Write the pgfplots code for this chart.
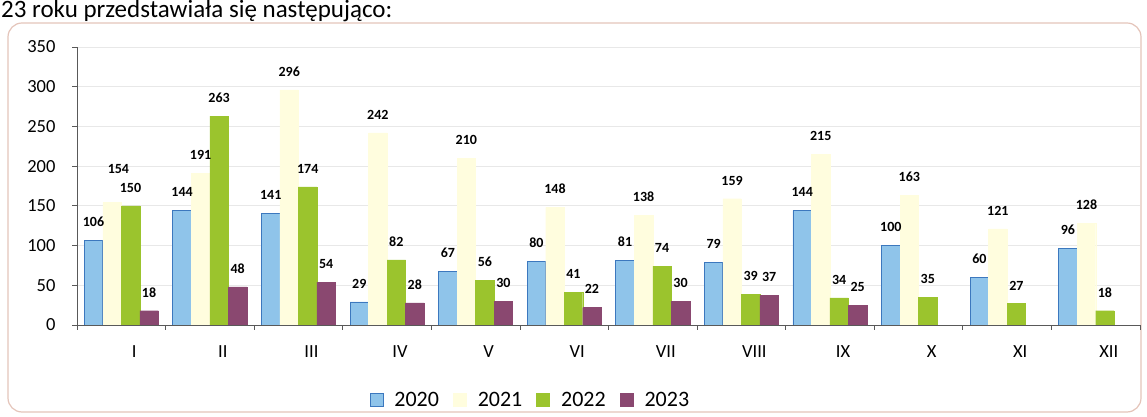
\documentclass[border=0pt]{standalone}
\usepackage{pgfplots}
\pgfplotsset{compat=1.18}
\usepackage{pgfplotstable}
\usepackage{fontspec}
\setmainfont{Carlito}
\definecolor{c20}{RGB}{143,196,234}
\definecolor{c20d}{RGB}{60,120,190}
\definecolor{c21}{RGB}{255,253,222}
\definecolor{c22}{RGB}{155,196,45}
\definecolor{c23}{RGB}{138,72,112}
\definecolor{frame}{RGB}{228,196,186}
\pgfplotstableread{
m a b c d bo
1 106 154 150 18 16
2 144 191 263 48 0
3 141 296 174 54 0
4 29 242 82 28 0
5 67 210 56 30 0
6 80 148 41 22 0
7 81 138 74 30 0
8 79 159 39 37 0
9 144 215 34 25 0
10 100 163 35 nan 0
11 60 121 27 nan 0
12 96 128 18 nan 0
}\data
\begin{document}
\begin{tikzpicture}[x=1pt,y=1pt]
\useasboundingbox (0,0) rectangle (1147,417);
\clip (0,0) rectangle (1147,417);
\node[anchor=base west,inner sep=0pt,font=\fontsize{25}{25}\selectfont] at (1,399) {23 roku przedstawiała się następująco:};
\draw[color=frame,line width=1.2pt,rounded corners=14pt] (8,5) rectangle (1141,394);
\begin{axis}[
  at={(77pt,92pt)}, anchor=south west,
  scale only axis, width=1063pt, height=278pt,
  xmin=0.5, xmax=12.5, ymin=0, ymax=350,
  axis x line*=bottom, axis y line*=left,
  axis line style={-, draw=black!65, line width=0.8pt},
  ybar=0pt, bar width=18.5pt,
  xtick={1,...,12},
  xticklabels={I,II,III,IV,V,VI,VII,VIII,IX,X,XI,XII},
  major x tick style={draw=none},
  minor xtick={0.5,1.5,...,12.5},
  minor x tick style={draw=black!65, line width=0.8pt},
  minor tick length=5pt,
  xtick pos=bottom, xtick align=outside,
  ytick={0,50,...,350},
  ytick pos=left, ytick align=outside,
  major tick length=5pt,
  y tick style={draw=black!65, line width=0.8pt},
  ymajorgrids, grid style={draw=black!9, line width=0.8pt},
  /pgf/number format/assume math mode=true,
  tick label style={font=\fontsize{18.5}{18.5}\selectfont},
  xticklabel style={yshift=-12pt, xshift=13pt},
  yticklabel style={xshift=-13pt},
  nodes near coords,
  every node near coord/.append style={font=\bfseries\fontsize{14}{14}\selectfont, yshift=10pt, text=black},
  legend columns=4,
  legend style={at={(0.4265,-0.27)}, anchor=center, draw=none, fill=none,
    font=\fontsize{22}{22}\selectfont, column sep=9pt,
    /tikz/every even column/.append style={column sep=12pt}},
  legend image code/.code={\draw[#1, line width=0.8pt] (0pt,-6pt) rectangle (13pt,7pt);},
]
\addplot[fill=c20, draw=c20d, line width=0.9pt] table[x=m,y=a]{\data};
\addplot[fill=c21, draw=c21,
  visualization depends on={\thisrow{bo}\as\boff},
  every node near coord/.append style={yshift=\boff pt, xshift=0.4*\boff pt}] table[x=m,y=b]{\data};
\addplot[fill=c22, draw=c22] table[x=m,y=c]{\data};
\addplot[fill=c23, draw=c23] table[x=m,y=d]{\data};
\legend{2020,2021,2022,2023}
\end{axis}
\end{tikzpicture}
\end{document}
